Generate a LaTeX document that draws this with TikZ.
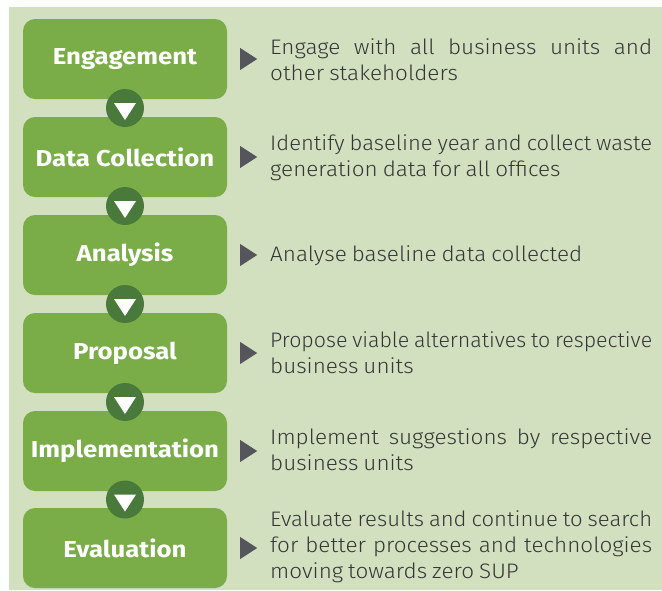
\documentclass[tikz,border=0pt]{standalone}
\usepackage{fontspec}
\usetikzlibrary{calc}
\setmainfont{Fira Sans}
\newfontfamily\descfont[FakeStretch=1.07,WordSpace=0.8]{Fira Sans Light}
\newfontfamily\labelfont[FakeStretch=1.12]{Fira Sans}
\definecolor{bggreen}{HTML}{D2E0C0}
\definecolor{boxgreen}{HTML}{7AAD47}
\definecolor{circgreen}{HTML}{4A7A3B}
\definecolor{arrgray}{HTML}{54565B}
\definecolor{txtgray}{HTML}{363636}
\tikzset{
  stepbox/.style={rectangle, rounded corners=12pt, fill=boxgreen, minimum width=204pt, minimum height=80pt, text=white, font=\labelfont\fontsize{23}{26}\selectfont\bfseries, inner sep=0pt},
  conn/.style={circle, fill=circgreen, minimum size=38pt, inner sep=0pt},
  desc/.style={anchor=west, text=txtgray, font=\descfont\fontsize{21}{26}\selectfont, align=left, inner sep=0pt},
}
\newsavebox\jlbox
\newcommand{\jl}[1]{\sbox\jlbox{#1}%
  \ifdim\wd\jlbox>382pt
    \pgfmathsetmacro\jlratio{382/\wd\jlbox}\scalebox{\jlratio}[1]{\usebox\jlbox}%
  \else
    \makebox[382pt][s]{#1}%
  \fi}
\begin{document}
\begin{tikzpicture}[x=1pt,y=-1pt]
\useasboundingbox (0,0) rectangle (662,590);
\fill[white] (0,0) rectangle (662,590);
\fill[bggreen] (9,7) rectangle (662,590);
% boxes
\node[stepbox] (b1) at (125,59) {Engagement};
\node[stepbox] (b2) at (125,157) {Data Collection};
\node[stepbox] (b3) at (125,255) {Analysis};
\node[stepbox] (b4) at (125,353) {Proposal};
\node[stepbox] (b5) at (125,451) {Implementation};
\node[stepbox] (b6) at (125,548) {Evaluation};
% connectors
\foreach \a/\b [count=\i] in {b1/b2,b2/b3,b3/b4,b4/b5,b5/b6}{
  \node[conn] (c\i) at ($(\a.south)!0.5!(\b.north)$) {};
  \fill[white] (c\i) ++(-11,-5) -- ++(22,0) -- ++(-11,17) -- cycle;
}
% pointers and descriptions
\foreach \b in {b1,b2,b3,b4,b5,b6}{
  \coordinate (p\b) at ([xshift=13pt]\b.east);
  \fill[arrgray] (p\b) ++(0,-11) -- ++(17,11) -- ++(-17,11) -- cycle;
}
\node[desc] (d1) at (270,60) {\jl{Engage with all business units and}\\other stakeholders};
\node[desc] (d2) at (270,158) {\jl{Identify baseline year and collect waste}\\generation data for all offices};
\node[desc] (d3) at (270,256) {Analyse baseline data collected};
\node[desc] (d4) at (270,353) {\jl{Propose viable alternatives to respective}\\business units};
\node[desc] (d5) at (270,450) {\jl{Implement suggestions by respective}\\business units};
\node[desc] (d6) at (270,547) {\jl{Evaluate results and continue to search}\\\jl{for better processes and technologies}\\moving towards zero SUP};
\end{tikzpicture}
\end{document}
